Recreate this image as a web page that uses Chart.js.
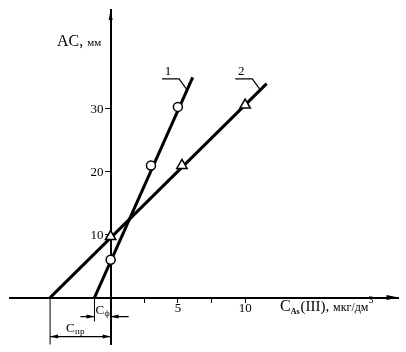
<!DOCTYPE html>
<html>
<head>
<meta charset="utf-8">
<script src="https://cdn.jsdelivr.net/npm/chart.js@4"></script>
<style>
  html, body { margin: 0; padding: 0; background: #fff; }
  canvas { display: block; }
</style>
</head>
<body>
<canvas id="chart" width="406" height="352"></canvas>
<script>
// прямая 1 (кружки) и прямая 2 (треугольники), C_As(III) мкг/дм3 -> AC, мм
const line1X = [-1.2, 6.1];
const line1Y = [0, 35];
const circleX = [0, 3, 5];
const circleY = [6, 21, 30.3];

const line2X = [-4.5, 11.6];
const line2Y = [0, 34];
const triangleX = [0, 5.3, 10];
const triangleY = [9.7, 21, 30.6];

const xTicks = [2.5, 5, 7.5, 10];
const xTickLabels = ['', '5', '', '10'];
const yTicks = [10, 20, 30];

const SERIF = "'Liberation Serif', 'DejaVu Serif', serif";

const pts = (xs, ys) => xs.map((x, i) => ({ x, y: ys[i] }));

function arrowHead(ctx, x, y, dir, len, half) {
  // dir: угол направления острия
  ctx.beginPath();
  ctx.moveTo(x, y);
  ctx.lineTo(x - len * Math.cos(dir) - half * Math.sin(dir), y - len * Math.sin(dir) + half * Math.cos(dir));
  ctx.lineTo(x - len * Math.cos(dir) + half * Math.sin(dir), y - len * Math.sin(dir) - half * Math.cos(dir));
  ctx.closePath();
  ctx.fill();
}

const decorPlugin = {
  id: 'decor',
  afterDraw(chart) {
    const { ctx, chartArea: area } = chart;
    const sx = chart.scales.x, sy = chart.scales.y;
    const x0 = sx.getPixelForValue(0), y0 = sy.getPixelForValue(0);
    ctx.save();
    ctx.fillStyle = '#000';
    ctx.strokeStyle = '#000';

    // стрелки осей
    arrowHead(ctx, area.right, y0, 0, 12, 2.5);
    arrowHead(ctx, x0, area.top, -Math.PI / 2, 10, 2);

    // подписи делений
    ctx.font = '13px ' + SERIF;
    ctx.textBaseline = 'middle';
    ctx.textAlign = 'right';
    yTicks.forEach(v => ctx.fillText(String(v), x0 - 7, sy.getPixelForValue(v) + 1));
    ctx.textBaseline = 'top';
    ctx.textAlign = 'center';
    xTicks.forEach((v, i) => ctx.fillText(xTickLabels[i], sx.getPixelForValue(v), y0 + 5));

    // подпись оси Y
    ctx.textBaseline = 'alphabetic';
    ctx.textAlign = 'left';
    let ty = 57;
    ctx.font = '16px ' + SERIF;
    ctx.fillText('AC,', ty, 46); ty += ctx.measureText('AC, ').width;
    ctx.font = '11px ' + SERIF;
    ctx.fillText('мм', ty, 46);

    // подпись оси X
    let tx = 280;
    const by = y0 + 13;
    ctx.font = '16px ' + SERIF;
    ctx.fillText('C', tx, by); tx += ctx.measureText('C').width;
    ctx.font = 'bold 8px ' + SERIF;
    ctx.fillText('As', tx, by + 3); tx += ctx.measureText('As').width + 1;
    ctx.font = '15px ' + SERIF;
    ctx.fillText('(III),', tx, by); tx += ctx.measureText('(III), ').width;
    ctx.font = '12px ' + SERIF;
    ctx.fillText('мкг/дм', tx, by); tx += ctx.measureText('мкг/дм').width;
    ctx.font = '10px ' + SERIF;
    ctx.fillText('3', tx, by - 8);

    // выноски 1 и 2
    const leader = (lx, ly, a, text) => {
      const ax = sx.getPixelForValue(lx[0] + (lx[1] - lx[0]) * (a - ly[0]) / (ly[1] - ly[0]));
      const ay = sy.getPixelForValue(a);
      ctx.lineWidth = 1.2;
      ctx.beginPath();
      ctx.moveTo(ax, ay);
      ctx.lineTo(ax - 8, ay - 11);
      ctx.lineTo(ax - 25, ay - 11);
      ctx.stroke();
      ctx.font = '13px ' + SERIF;
      ctx.textAlign = 'center';
      ctx.fillText(text, ax - 19, ay - 15);
    };
    leader(line1X, line1Y, 33, '1');
    leader(line2X, line2Y, 33, '2');

    // C_ф
    const xf = sx.getPixelForValue(line1X[0]);
    ctx.lineWidth = 1;
    ctx.beginPath();
    ctx.moveTo(xf, y0); ctx.lineTo(xf, y0 + 24);
    ctx.stroke();
    ctx.lineWidth = 1.3;
    ctx.beginPath();
    ctx.moveTo(xf - 14, y0 + 19); ctx.lineTo(xf, y0 + 19);
    ctx.moveTo(x0, y0 + 19); ctx.lineTo(x0 + 18, y0 + 19);
    ctx.stroke();
    arrowHead(ctx, xf, y0 + 19, 0, 8, 2);
    arrowHead(ctx, x0, y0 + 19, Math.PI, 8, 2);
    ctx.textAlign = 'left';
    ctx.font = '13px ' + SERIF;
    ctx.fillText('C', xf + 1, y0 + 16);
    ctx.font = '8px ' + SERIF;
    ctx.fillText('ф', xf + 10, y0 + 18);

    // C_пр
    const xp = sx.getPixelForValue(line2X[0]);
    ctx.lineWidth = 1;
    ctx.beginPath();
    ctx.moveTo(xp, y0); ctx.lineTo(xp, area.bottom);
    ctx.stroke();
    ctx.lineWidth = 1.3;
    ctx.beginPath();
    ctx.moveTo(xp, y0 + 39); ctx.lineTo(x0, y0 + 39);
    ctx.stroke();
    arrowHead(ctx, xp, y0 + 39, Math.PI, 8, 2);
    arrowHead(ctx, x0, y0 + 39, 0, 8, 2);
    ctx.font = '13px ' + SERIF;
    ctx.fillText('C', xp + 16, y0 + 34);
    ctx.font = '9px ' + SERIF;
    ctx.fillText('пр', xp + 25, y0 + 36);

    ctx.restore();
  },
};

new Chart(document.getElementById('chart'), {
  type: 'scatter',
  data: {
    datasets: [
      {
        data: pts(circleX, circleY),
        pointStyle: 'circle',
        pointRadius: 4.5,
        pointBackgroundColor: '#fff',
        pointBorderColor: '#000',
        pointBorderWidth: 1.5,
      },
      {
        data: pts(triangleX, triangleY),
        pointStyle: 'triangle',
        pointRadius: 6,
        pointBackgroundColor: '#fff',
        pointBorderColor: '#000',
        pointBorderWidth: 1.5,
      },
      {
        data: pts(line1X, line1Y),
        showLine: true,
        borderColor: '#000',
        borderWidth: 3,
        pointRadius: 0,
      },
      {
        data: pts(line2X, line2Y),
        showLine: true,
        borderColor: '#000',
        borderWidth: 3,
        pointRadius: 0,
      },
    ],
  },
  options: {
    responsive: false,
    animation: false,
    layout: { padding: { left: 10, top: 10, right: 6, bottom: 7 } },
    plugins: { legend: { display: false }, tooltip: { enabled: false } },
    scales: {
      x: {
        type: 'linear',
        min: -7.48,
        max: 21.4,
        position: { y: 0 },
        afterBuildTicks: s => { s.ticks = xTicks.map(v => ({ value: v })); },
        ticks: { display: false },
        grid: { drawOnChartArea: false, drawTicks: true, tickLength: 4, color: '#000' },
        border: { color: '#000', width: 2 },
      },
      y: {
        type: 'linear',
        min: -7.46,
        max: 45.7,
        position: { x: 0 },
        afterBuildTicks: s => { s.ticks = yTicks.map(v => ({ value: v })); },
        ticks: { display: false },
        grid: { drawOnChartArea: false, drawTicks: true, tickLength: 5, color: '#000' },
        border: { color: '#000', width: 2 },
      },
    },
  },
  plugins: [decorPlugin],
});
</script>
</body>
</html>
